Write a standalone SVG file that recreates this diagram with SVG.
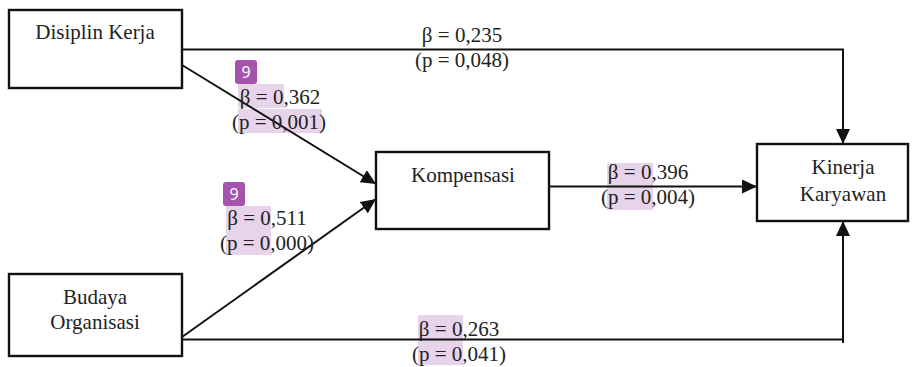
<svg xmlns="http://www.w3.org/2000/svg" width="916" height="367" viewBox="0 0 916 367">
<style>
.box{fill:#fff;stroke:#111;stroke-width:2.4}
.ln{fill:none;stroke:#111;stroke-width:2}
.t{font-family:'Liberation Serif','Tinos','Times New Roman','DejaVu Serif',serif;font-size:21px;fill:#222;text-anchor:middle}
.hl{fill:#e7d4eb}
.bd{fill:#a653ae}
.bt{font-family:'Noto Sans','DejaVu Sans',sans-serif;font-size:16px;fill:#fff;text-anchor:middle}
</style>
<defs>
<marker id="ah" markerUnits="userSpaceOnUse" markerWidth="16" markerHeight="14" refX="15" refY="7" orient="auto">
<path d="M0,0 L15,7 L0,14 Z" fill="#111"/>
</marker>
</defs>
<rect width="916" height="367" fill="#fff"/>
<g id="highlights">
<rect class="hl" x="238" y="84" width="46" height="24"/>
<rect class="hl" x="238" y="109" width="84" height="24"/>
<rect class="hl" x="226" y="206" width="45" height="49"/>
<rect class="hl" x="607" y="163" width="46" height="47"/>
<rect class="hl" x="418" y="315" width="45" height="50"/>
</g>
<g id="connectors">
<polyline class="ln" points="182,49.5 843,49.5 843,144" marker-end="url(#ah)"/>
<polyline class="ln" points="182,339.5 843,339.5 843,343"/>
<line class="ln" x1="843" y1="343" x2="843" y2="221" marker-end="url(#ah)"/>
<line class="ln" x1="182" y1="65" x2="376" y2="184" marker-end="url(#ah)"/>
<line class="ln" x1="182" y1="337" x2="376" y2="199" marker-end="url(#ah)"/>
<line class="ln" x1="549" y1="186.5" x2="757" y2="186.5" marker-end="url(#ah)"/>
</g>
<g id="disiplin">
<rect class="box" x="9" y="10" width="173" height="78"/>
<text class="t" x="95" y="39">Disiplin Kerja</text>
</g>
<g id="budaya">
<rect class="box" x="9" y="274" width="173" height="82"/>
<text class="t" x="95" y="304">Budaya</text>
<text class="t" x="95" y="329">Organisasi</text>
</g>
<g id="kompensasi">
<rect class="box" x="376" y="152" width="173" height="77"/>
<text class="t" x="463" y="182">Kompensasi</text>
</g>
<g id="kinerja">
<rect class="box" x="757" y="144" width="151" height="77"/>
<text class="t" x="843" y="174">Kinerja</text>
<text class="t" x="843" y="201">Karyawan</text>
</g>
<g id="labels">
<text class="t" x="462" y="42">β = 0,235</text>
<text class="t" x="462" y="67">(p = 0,048)</text>
<text class="t" x="280" y="104">β = 0,362</text>
<text class="t" x="279" y="129">(p = 0,001)</text>
<text class="t" x="267" y="225">β = 0,511</text>
<text class="t" x="267" y="250">(p = 0,000)</text>
<text class="t" x="648" y="179">β = 0,396</text>
<text class="t" x="648" y="204">(p = 0,004)</text>
<text class="t" x="459" y="336">β = 0,263</text>
<text class="t" x="459" y="361">(p = 0,041)</text>
</g>
<g id="badges">
<rect class="bd" x="235" y="60" width="22" height="24" rx="3"/>
<text class="bt" x="246" y="78">9</text>
<rect class="bd" x="223" y="182" width="22" height="24" rx="3"/>
<text class="bt" x="234" y="200">9</text>
</g>
</svg>
